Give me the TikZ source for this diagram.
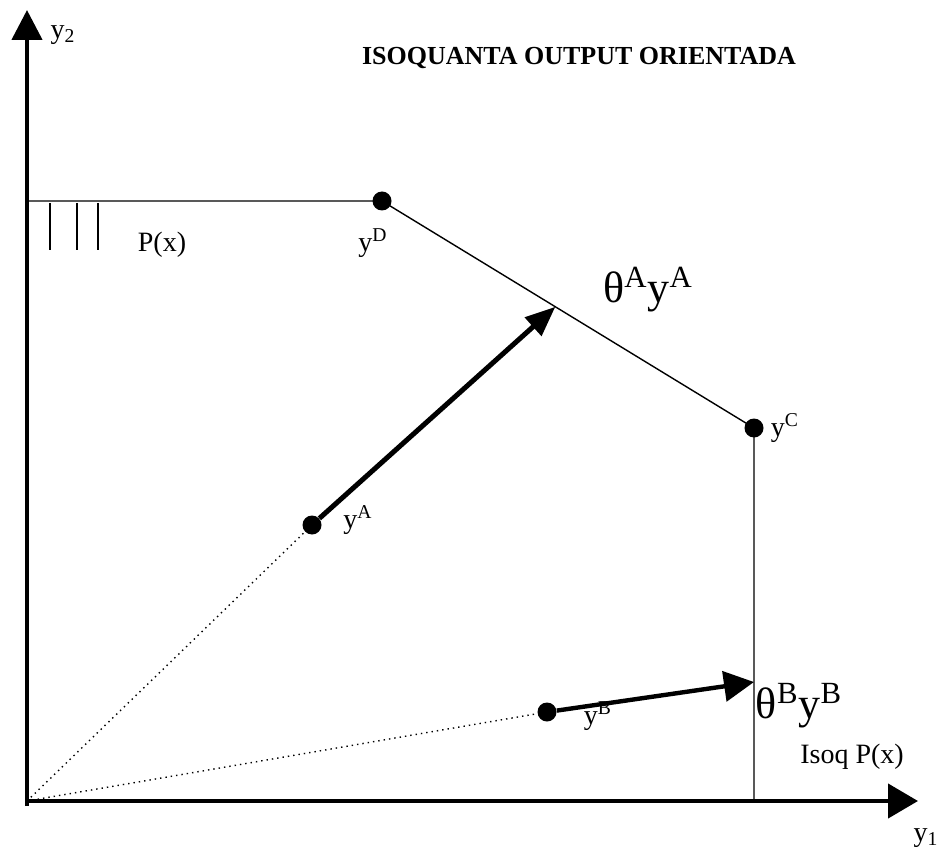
\documentclass[tikz,border=0pt]{standalone}
\usepackage{fontspec}
\setmainfont{Liberation Serif}
\usetikzlibrary{arrows.meta, calc}

\begin{document}
\begin{tikzpicture}[x=0.5pt, y=0.5pt,
    dot/.style={circle, fill=black, inner sep=0pt, minimum size=9.5pt},
    lbl/.style={inner sep=0pt, font=\fontsize{14}{16}\selectfont},
    biglbl/.style={inner sep=0pt, font=\fontsize{22}{24}\selectfont}]
        \useasboundingbox (0,0) rectangle (940,852);

        % axes
        \coordinate (O) at (27,51);
        \coordinate (ytop) at (27,842);
        \coordinate (xend) at (918,51);
        \draw[line width=2.2pt, -{Triangle[length=15pt, width=15pt]}] (27,46) -- (ytop);
        \draw[line width=2.2pt, -{Triangle[length=15pt, width=17pt]}] (25,51) -- (xend);
        \node[lbl] (ly2) at (63,817) {y\textsubscript{2}};
        \node[lbl] (ly1) at (926,14) {y\textsubscript{1}};

        \node[font=\bfseries\fontsize{13}{15}\selectfont, inner sep=0pt] (title) at (579,794) {ISOQUANTA OUTPUT ORIENTADA};

        % observed and frontier points
        \node[dot] (yD) at (382,651) {};
        \node[dot] (yC) at (754,424) {};
        \node[dot] (yA) at (312,327) {};
        \node[dot] (yB) at (547,140) {};

        % isoquant P(x)
        \draw[line width=0.7pt] (O |- yD) -- (yD.center) -- (yC.center) -- (yC |- O);
        \foreach \hx in {50,77,98}
          \draw[line width=0.8pt] (\hx,649) -- (\hx,602);

        % rays from the origin
        \draw[dotted, line width=0.7pt] (O) -- (yA);
        \draw[dotted, line width=0.7pt] (O) -- (yB);

        \node[lbl] (lP) at (162,607) {P(x)};
        \node[lbl] (lD) at (373,609) {y\textsuperscript{D}};
        \node[lbl] (lC) at (785,424) {y\textsuperscript{C}};
        \node[lbl] (lA) at (358,332) {y\textsuperscript{A}};
        \node[lbl] (lB) at (598,136) {y\textsuperscript{B}};
        \node[biglbl] (lthA) at (648,562) {θ\textsuperscript{A}y\textsuperscript{A}};
        \node[biglbl] (lthB) at (799,146) {θ\textsuperscript{B}y\textsuperscript{B}};
        \node[lbl] (lisoq) at (852,95) {Isoq P(x)};

        % radial expansions to the frontier
        \coordinate (tA) at ($(yD)!0.466!(yC)$);
        \coordinate (tB) at ($(yC |- O)!0.319!(yC)$);
        \draw[line width=2.5pt, -{Triangle[length=15pt, width=12pt]}] (yA) -- (tA);
        \draw[line width=2.2pt, -{Triangle[length=15pt, width=15pt]}] (yB) -- (tB);
\end{tikzpicture}
\end{document}
